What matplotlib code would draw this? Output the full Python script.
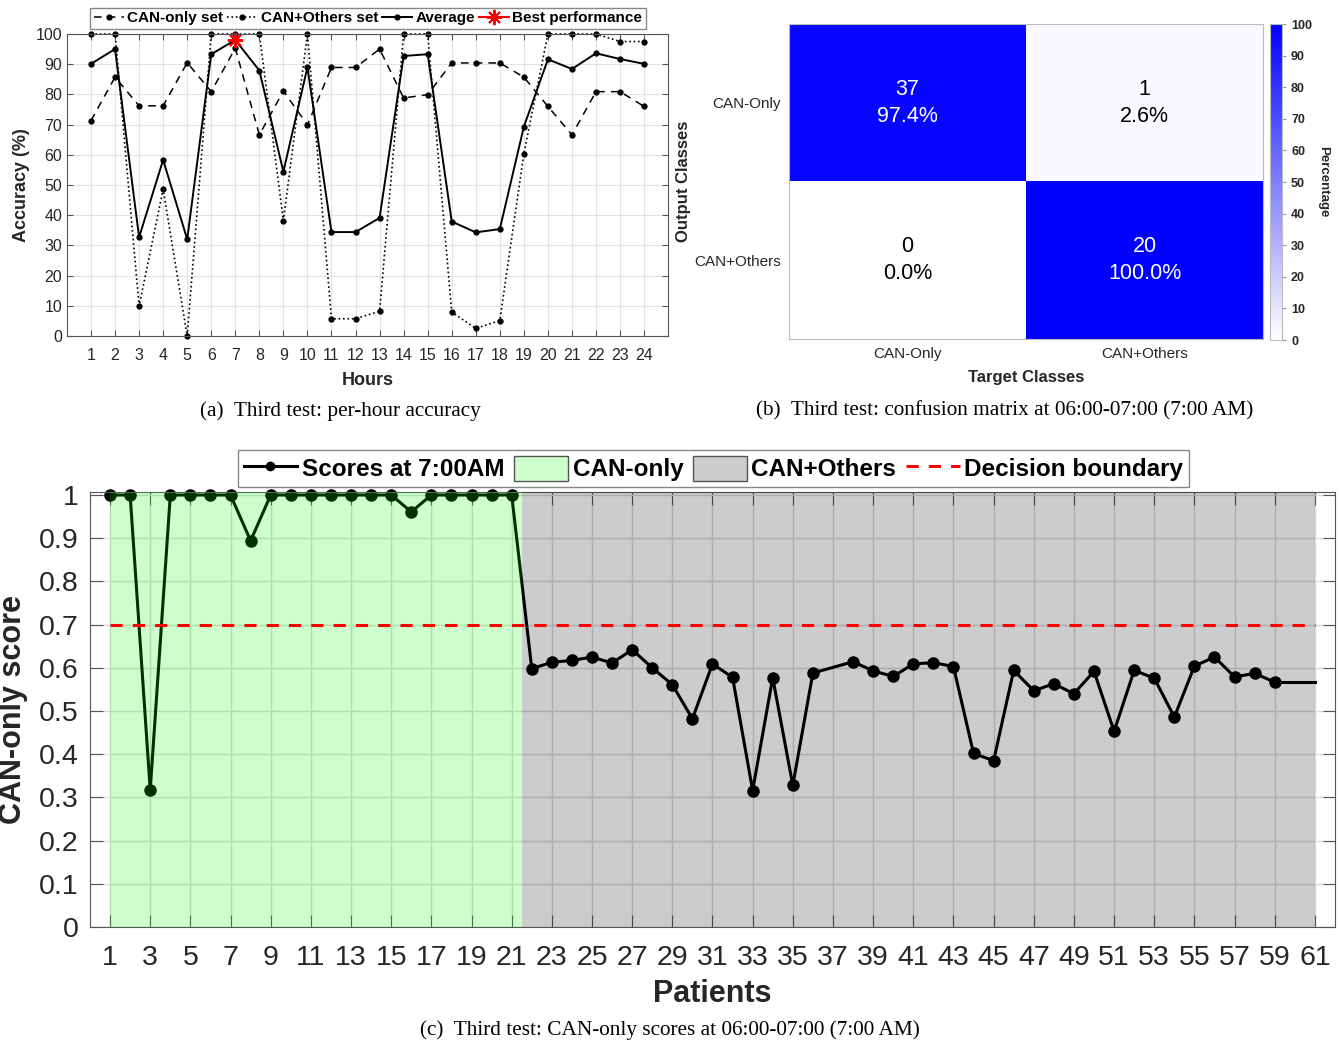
import matplotlib
matplotlib.use('Agg')
import matplotlib.pyplot as plt
from matplotlib.colors import LinearSegmentedColormap
from matplotlib.lines import Line2D
from matplotlib.patches import Patch

plt.rcParams['font.family'] = ['Liberation Sans', 'DejaVu Sans']

# (a) per-hour accuracy
hours = list(range(1, 25))
can_only_acc = [71.3, 85.7, 76.2, 76.2, 90.5, 80.9, 95.3, 66.6, 81.1, 69.9, 88.9, 88.9,
                95.0, 78.8, 79.9, 90.4, 90.4, 90.4, 85.7, 76.0, 66.6, 80.9, 80.9, 76.0]
can_others_acc = [100, 100, 9.9, 48.6, 0, 100, 100, 100, 38.2, 100, 5.7, 5.7,
                  8.2, 100, 100, 7.9, 2.5, 5.1, 60.4, 100, 100, 100, 97.5, 97.5]
average_acc = [90.1, 95.0, 32.7, 58.3, 32.0, 93.3, 98.0, 87.9, 54.4, 89.0, 34.4, 34.4,
               39.1, 92.7, 93.3, 37.9, 34.3, 35.4, 69.3, 91.6, 88.4, 93.6, 91.7, 90.1]
best_hour = 7
best_acc = 98.0

# (b) confusion matrix at 7:00 AM
class_names = ['CAN-Only', 'CAN+Others']
cm_counts = [[37, 1], [0, 20]]

# (c) CAN-only scores at 7:00 AM
patient_ids = list(range(1, 37)) + list(range(38, 60))
scores = [1.0, 1.0, 0.317, 1.0, 1.0, 1.0, 1.0, 0.894, 1.0, 1.0, 1.0, 1.0, 1.0, 1.0, 1.0,
          0.961, 1.0, 1.0, 1.0, 1.0, 1.0,
          0.598, 0.613, 0.617, 0.625, 0.611, 0.642, 0.600, 0.561, 0.482, 0.609, 0.578,
          0.316, 0.577, 0.328, 0.588,
          0.614, 0.593, 0.580, 0.609, 0.612, 0.603, 0.402, 0.385, 0.594, 0.547, 0.563,
          0.540, 0.592, 0.453, 0.594, 0.576, 0.486, 0.604, 0.625, 0.579, 0.587, 0.567]
last_patient = 61
can_only_span = (1, 21.5)
can_others_span = (21.5, 61)
threshold = 0.7

fig = plt.figure(figsize=(13.39, 10.45), dpi=100)
axcol = '#555555'
txtcol = '#262626'

# ---------- (a)
ax1 = fig.add_axes([0.050, 0.6785, 0.449, 0.289])
f1, = ax1.plot(hours, can_only_acc, color='black', ls=(0, (5, 4)), lw=1.1, marker='o', ms=3.5, clip_on=False)
f2, = ax1.plot(hours, can_others_acc, color='black', ls=':', lw=1.2, marker='o', ms=3.5, clip_on=False)
f3, = ax1.plot(hours, average_acc, color='black', ls='-', lw=1.4, marker='o', ms=3.5, clip_on=False)
f4, = ax1.plot([best_hour], [best_acc], color='red', ls='-', marker=(8, 2, 0), ms=11, mew=1.4, clip_on=False)
ax1.set_xlim(0, 25)
ax1.set_ylim(0, 100)
ax1.set_xticks(hours)
ax1.set_yticks(range(0, 101, 10))
ax1.grid(color='#e3e3e3', lw=0.8)
ax1.set_axisbelow(True)
ax1.tick_params(direction='in', length=4, top=True, right=True, labelsize=11.5,
                colors=axcol, labelcolor=txtcol)
ax1.tick_params(axis='x', pad=9)
for s in ax1.spines.values():
    s.set_color(axcol)
ax1.set_xlabel('Hours', fontsize=13, fontweight='bold', color=txtcol, labelpad=6)
ax1.set_ylabel('Accuracy (%)', fontsize=13, fontweight='bold', color=txtcol, labelpad=4)
fig.legend(handles=[f1, f2, f3, f4],
           labels=['CAN-only set', 'CAN+Others set', 'Average', 'Best performance'],
           loc='center', bbox_to_anchor=(0.2748, 0.9823), ncol=4,
           prop={'weight': 'bold', 'size': 11}, handlelength=2.0, handletextpad=0.2,
           columnspacing=0.25, borderpad=0.25, fancybox=False, edgecolor='#888888',
           framealpha=1, numpoints=1)

# ---------- (b)
ax2 = fig.add_axes([0.5893, 0.6756, 0.354, 0.3014])
cax = fig.add_axes([0.9485, 0.6746, 0.009, 0.3024])
pct = [[100.0 * v / sum(row) for v in row] for row in cm_counts]
cmap = LinearSegmentedColormap.from_list('wb', ['white', '#0000ff'])
im = ax2.imshow(pct, cmap=cmap, vmin=0, vmax=100, aspect='auto')
for i in range(2):
    for j in range(2):
        c = 'white' if pct[i][j] > 50 else 'black'
        ax2.text(j, i, '%d\n%.1f%%' % (cm_counts[i][j], pct[i][j]), ha='center', va='center',
                 fontsize=15.5, color=c, linespacing=1.4)
ax2.set_xticks([0, 1])
ax2.set_xticklabels(class_names)
ax2.set_yticks([0, 1])
ax2.set_yticklabels(class_names)
ax2.tick_params(length=0, labelsize=11, labelcolor=txtcol, pad=6)
for s in ax2.spines.values():
    s.set_color('#bbbbbb')
ax2.set_xlabel('Target Classes', fontsize=12, fontweight='bold', color=txtcol, labelpad=6)
ax2.set_ylabel('Output Classes', fontsize=12, fontweight='bold', color=txtcol, labelpad=2)
cb = fig.colorbar(im, cax=cax, ticks=range(0, 101, 10))
cb.outline.set_edgecolor('#bbbbbb')
cb.ax.tick_params(labelsize=9, length=3, colors='#999999', labelcolor=txtcol)
for t in cb.ax.get_yticklabels():
    t.set_fontweight('bold')
cb.set_label('Percentage', rotation=270, fontsize=9.5, fontweight='bold', color=txtcol, labelpad=12)

# ---------- (c)
ax3 = fig.add_axes([0.0672, 0.1129, 0.9298, 0.4163])
ax3.plot(patient_ids, scores, color='black', lw=2.2, marker='o', ms=8, zorder=2, clip_on=False)
ax3.plot([patient_ids[-1], last_patient], [scores[-1], scores[-1]], color='black', lw=2.2, zorder=2)
ax3.axvspan(*can_only_span, color=(0, 1, 0), alpha=0.2, lw=0, zorder=3)
ax3.axvspan(*can_others_span, color=(0, 0, 0), alpha=0.2, lw=0, zorder=3)
ax3.plot([can_only_span[0], can_others_span[1]], [threshold, threshold], color='red',
         ls=(0, (4, 3.3)), lw=2.2, zorder=4)
ax3.set_xlim(0, 62)
ax3.set_ylim(0, 1.007)
ax3.set_xticks(range(1, 62, 2))
ax3.set_yticks([i / 10 for i in range(11)])
ax3.set_yticklabels(['0'] + ['0.%d' % i for i in range(1, 10)] + ['1'])
ax3.grid(color='#d9d9d9', lw=1.0)
ax3.set_axisbelow(True)
ax3.tick_params(direction='in', length=9, top=True, right=True, labelsize=20.5,
                colors=axcol, labelcolor=txtcol, pad=8)
ax3.tick_params(axis='x', pad=13)
for s in ax3.spines.values():
    s.set_color(axcol)
ax3.set_xlabel('Patients', fontsize=22, fontweight='bold', color=txtcol, labelpad=6)
ax3.set_ylabel('CAN-only score', fontsize=22, fontweight='bold', color=txtcol, labelpad=8)
h1 = Line2D([], [], color='black', lw=2.2, marker='o', ms=6)
h2 = Patch(facecolor='#ccffcc', edgecolor='#555555')
h3 = Patch(facecolor='#cccccc', edgecolor='#555555')
h4 = Line2D([], [], color='red', lw=2.2, ls=(0, (4, 3.3)))
fig.legend(handles=[h1, h2, h3, h4],
           labels=['Scores at 7:00AM', 'CAN-only', 'CAN+Others', 'Decision boundary'],
           loc='center', bbox_to_anchor=(0.5329, 0.5517), ncol=4,
           prop={'weight': 'bold', 'size': 17.5}, handlelength=2.2, handleheight=1.2,
           handletextpad=0.2, columnspacing=0.4, borderpad=0.25, fancybox=False,
           edgecolor='#888888', framealpha=1)

# captions
cap = dict(fontsize=15.3, family='Liberation Serif', ha='center', va='center')
fig.text(0.254, 0.6065, '(a)  Third test: per-hour accuracy', **cap)
fig.text(0.7506, 0.6065, '(b)  Third test: confusion matrix at 06:00-07:00 (7:00 AM)', **cap)
fig.text(0.5, 0.0144, '(c)  Third test: CAN-only scores at 06:00-07:00 (7:00 AM)', **cap)

plt.savefig('out.png', dpi=100)
